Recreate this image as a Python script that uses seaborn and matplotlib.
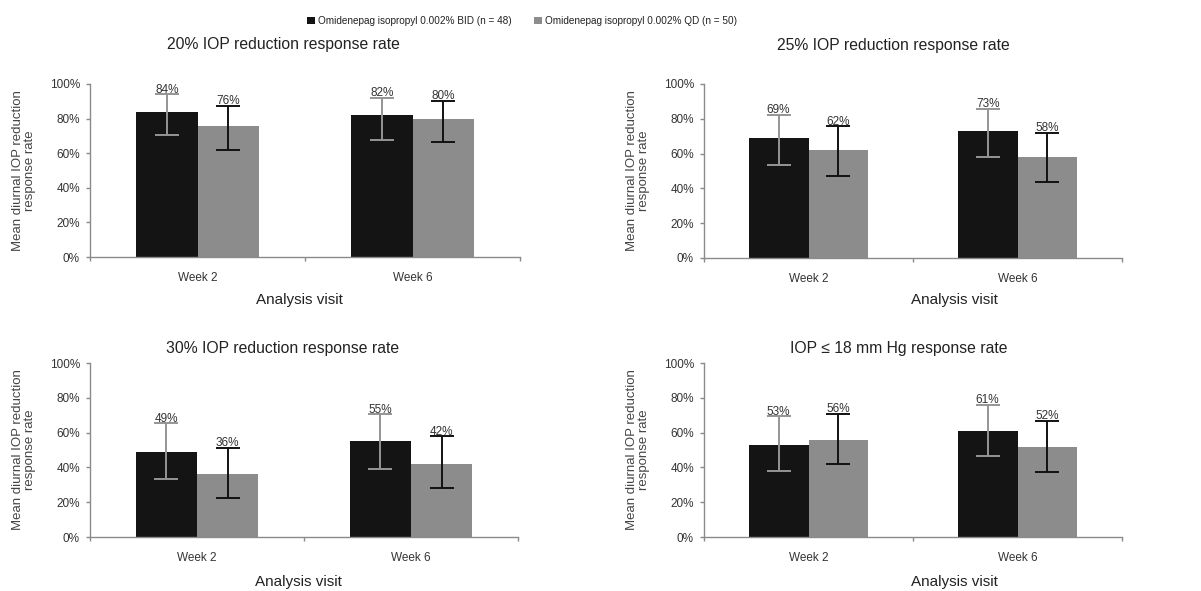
import pandas as pd
import matplotlib.pyplot as plt
import seaborn as sns
from matplotlib.ticker import PercentFormatter, FixedLocator

# ---------------------------------------------------------
# Data (values in %)
# ---------------------------------------------------------
visits = ["Week 2", "Week 6"]
groups = ["Omidenepag isopropyl 0.002% BID (n = 48)",
          "Omidenepag isopropyl 0.002% QD (n = 50)"]
titles = ["20% IOP reduction response rate",
          "25% IOP reduction response rate",
          "30% IOP reduction response rate",
          "IOP \u2264 18 mm Hg response rate"]

bid_rate = [[84, 82], [69, 73], [49, 55], [53, 61]]
bid_lower = [[70.4, 67.9], [53.3, 57.8], [33.2, 39.0], [38.0, 46.3]]
bid_upper = [[94.0, 92.1], [82.2, 85.9], [65.3, 70.5], [69.3, 75.8]]

qd_rate = [[76, 80], [62, 58], [36, 42], [56, 52]]
qd_lower = [[61.7, 66.2], [47.1, 43.9], [22.3, 28.0], [41.9, 37.4]]
qd_upper = [[87.3, 90.4], [75.6, 71.8], [51.1, 57.8], [70.6, 66.8]]

# ---------------------------------------------------------
# Styling / layout
# ---------------------------------------------------------
sns.set_style("white")
plt.rcParams["font.family"] = ["Liberation Sans", "DejaVu Sans"]
plt.rcParams["text.color"] = "#222222"

bar_colors = ["#141414", "#8c8c8c"]
err_colors = ["#959595", "#111111"]
axis_grey = "#8a8a8a"

W, H = 1201, 591
# axes boxes in pixels: left, top, right, bottom
boxes = [(90, 84, 520, 257), (704, 84, 1122, 258),
         (90, 363, 518, 537), (704, 363, 1122, 537)]
title_xy = [(0.451, 1.179), (0.452, 1.176), (0.449, 1.035), (0.467, 1.035)]
xlabel_xy = [(0.488, -0.249), (0.60, -0.239), (0.488, -0.261), (0.60, -0.261)]

fig = plt.figure(figsize=(W / 100, H / 100), dpi=100)

legend_handles, legend_labels = None, None

for i in range(4):
    l, t, r, b = boxes[i]
    ax = fig.add_axes([l / W, 1 - b / H, (r - l) / W, (b - t) / H])

    df = pd.DataFrame({
        "visit": visits * 2,
        "group": [groups[0]] * 2 + [groups[1]] * 2,
        "rate": bid_rate[i] + qd_rate[i],
        "lower": bid_lower[i] + qd_lower[i],
        "upper": bid_upper[i] + qd_upper[i],
    })

    sns.barplot(data=df, x="visit", y="rate", hue="group", hue_order=groups,
                palette=bar_colors, saturation=1, width=0.572, errorbar=None,
                linewidth=0, legend=(i == 0), ax=ax)

    if i == 0:
        leg = ax.get_legend()
        legend_handles = leg.legend_handles
        legend_labels = [txt.get_text() for txt in leg.get_texts()]
        leg.remove()

    # error bars + value labels on top of the seaborn bars
    for g, cont in enumerate(list(ax.containers)[:2]):
        sub = df[df["group"] == groups[g]]
        xs = [p.get_x() + p.get_width() / 2 for p in cont.patches]
        ys = sub["rate"].to_numpy()
        lo = ys - sub["lower"].to_numpy()
        hi = sub["upper"].to_numpy() - ys
        ax.errorbar(xs, ys, yerr=[lo, hi], fmt="none", ecolor=err_colors[g],
                    elinewidth=1.4, capsize=8.3, capthick=1.4, zorder=3)
        for x, v, u in zip(xs, ys, sub["upper"]):
            ax.annotate(f"{v:.0f}%", (x, u), xytext=(0, 1.2),
                        textcoords="offset points", ha="center", va="baseline",
                        fontsize=8.5, color="#333333")

    ax.set_ylim(0, 100)
    ax.set_xlim(-0.5, 1.5)
    ax.set_yticks(range(0, 101, 20))
    ax.yaxis.set_major_formatter(PercentFormatter(100, decimals=0))
    ax.xaxis.set_minor_locator(FixedLocator([-0.5, 0.5, 1.5]))

    ax.tick_params(axis="x", which="major", length=0, pad=10.5,
                   labelsize=8.5, labelcolor="#333333")
    ax.tick_params(axis="x", which="minor", length=2.6, width=1,
                   color=axis_grey, direction="out", bottom=True)
    ax.tick_params(axis="y", length=2.6, width=1, color=axis_grey,
                   direction="out", left=True, pad=4.7,
                   labelsize=8.5, labelcolor="#333333")

    for side in ["top", "right"]:
        ax.spines[side].set_visible(False)
    for side in ["left", "bottom"]:
        ax.spines[side].set_color(axis_grey)
        ax.spines[side].set_linewidth(1)

    ax.set_title(titles[i], fontsize=11.3, x=title_xy[i][0], y=title_xy[i][1],
                 va="center", color="#222222")

    ax.set_xlabel("Analysis visit", fontsize=11, color="#222222")
    ax.xaxis.label.set_va("center")
    ax.xaxis.set_label_coords(*xlabel_xy[i])

    ax.set_ylabel("Mean diurnal IOP reduction\nresponse rate", fontsize=9.5,
                  color="#444444", linespacing=1.05)
    ax.yaxis.set_label_coords(-54 / (r - l), 0.5)

fig.legend(legend_handles, legend_labels, loc="center",
           bbox_to_anchor=(522 / W, 1 - 21 / H), ncol=2, frameon=False,
           fontsize=7.2, handlelength=0.8, handleheight=0.8,
           handletextpad=0.3, columnspacing=2.2)

fig.savefig("out.png", dpi=100)
plt.close(fig)
